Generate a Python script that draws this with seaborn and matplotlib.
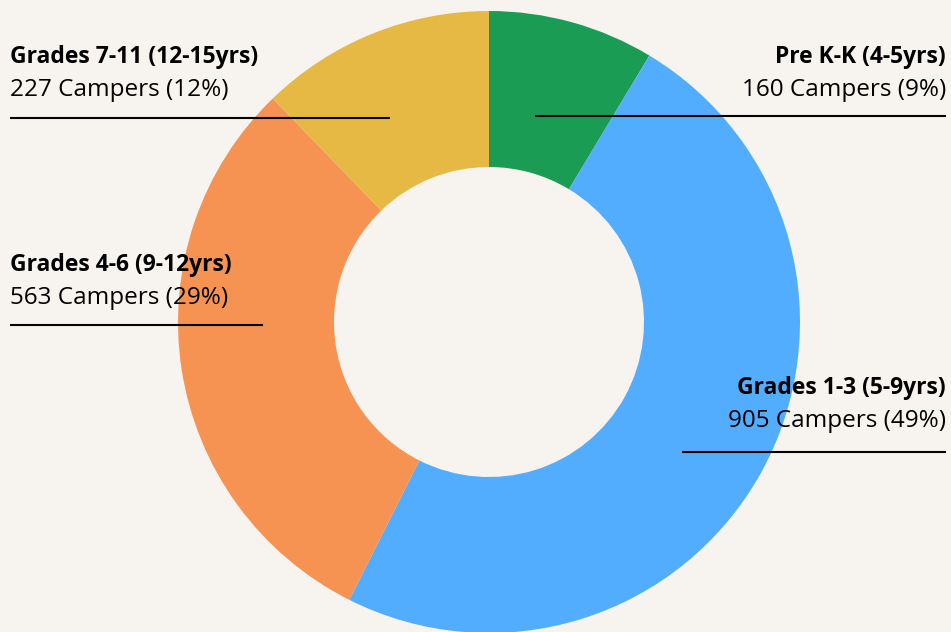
import matplotlib.pyplot as plt
import seaborn as sns

# Data
groups = ["Pre K-K (4-5yrs)", "Grades 1-3 (5-9yrs)", "Grades 4-6 (9-12yrs)", "Grades 7-11 (12-15yrs)"]
campers = [160, 905, 563, 227]
percents = [9, 49, 29, 12]
colors = ["#1a9c55", "#53adfe", "#f69352", "#e5b944"]

sns.set_style("white")
plt.rcParams['font.family'] = ['Open Sans', 'DejaVu Sans']
bg = "#f7f4ef"

fig = plt.figure(figsize=(9.51, 6.32), dpi=100, facecolor=bg)
ax = fig.add_axes([0, 0, 1, 1], facecolor=bg)

# donut, centre in data units (y measured from bottom)
ax.pie(campers, colors=colors, startangle=90, counterclock=False,
       center=(489, 310), radius=311,
       wedgeprops=dict(width=156, linewidth=0), frame=True)
ax.set_xlim(0, 951)
ax.set_ylim(0, 632)
ax.set_aspect('equal')
ax.axis('off')

# label layout: (x, y of bold line, alignment, line x0, line x1, line y) in pixel-from-top coords
layout = {
    "Pre K-K (4-5yrs)": (946, 57, 'right', 535, 946, 116),
    "Grades 1-3 (5-9yrs)": (946, 388, 'right', 682, 946, 452),
    "Grades 4-6 (9-12yrs)": (10, 265, 'left', 10, 263, 325),
    "Grades 7-11 (12-15yrs)": (10, 57, 'left', 10, 390, 118),
}

H = 632
for g, n, p in zip(groups, campers, percents):
    x, y, ha, x0, x1, ly = layout[g]
    ax.text(x, H - y, g, ha=ha, va='center', fontsize=16.5, fontweight='bold', color='black')
    ax.text(x, H - y - 33, f"{n} Campers ({p}%)", ha=ha, va='center', fontsize=17.5, color='black')
    ax.plot([x0, x1], [H - ly, H - ly], color='black', linewidth=1.5, solid_capstyle='butt')

fig.savefig("out.png", dpi=100, facecolor=bg)
